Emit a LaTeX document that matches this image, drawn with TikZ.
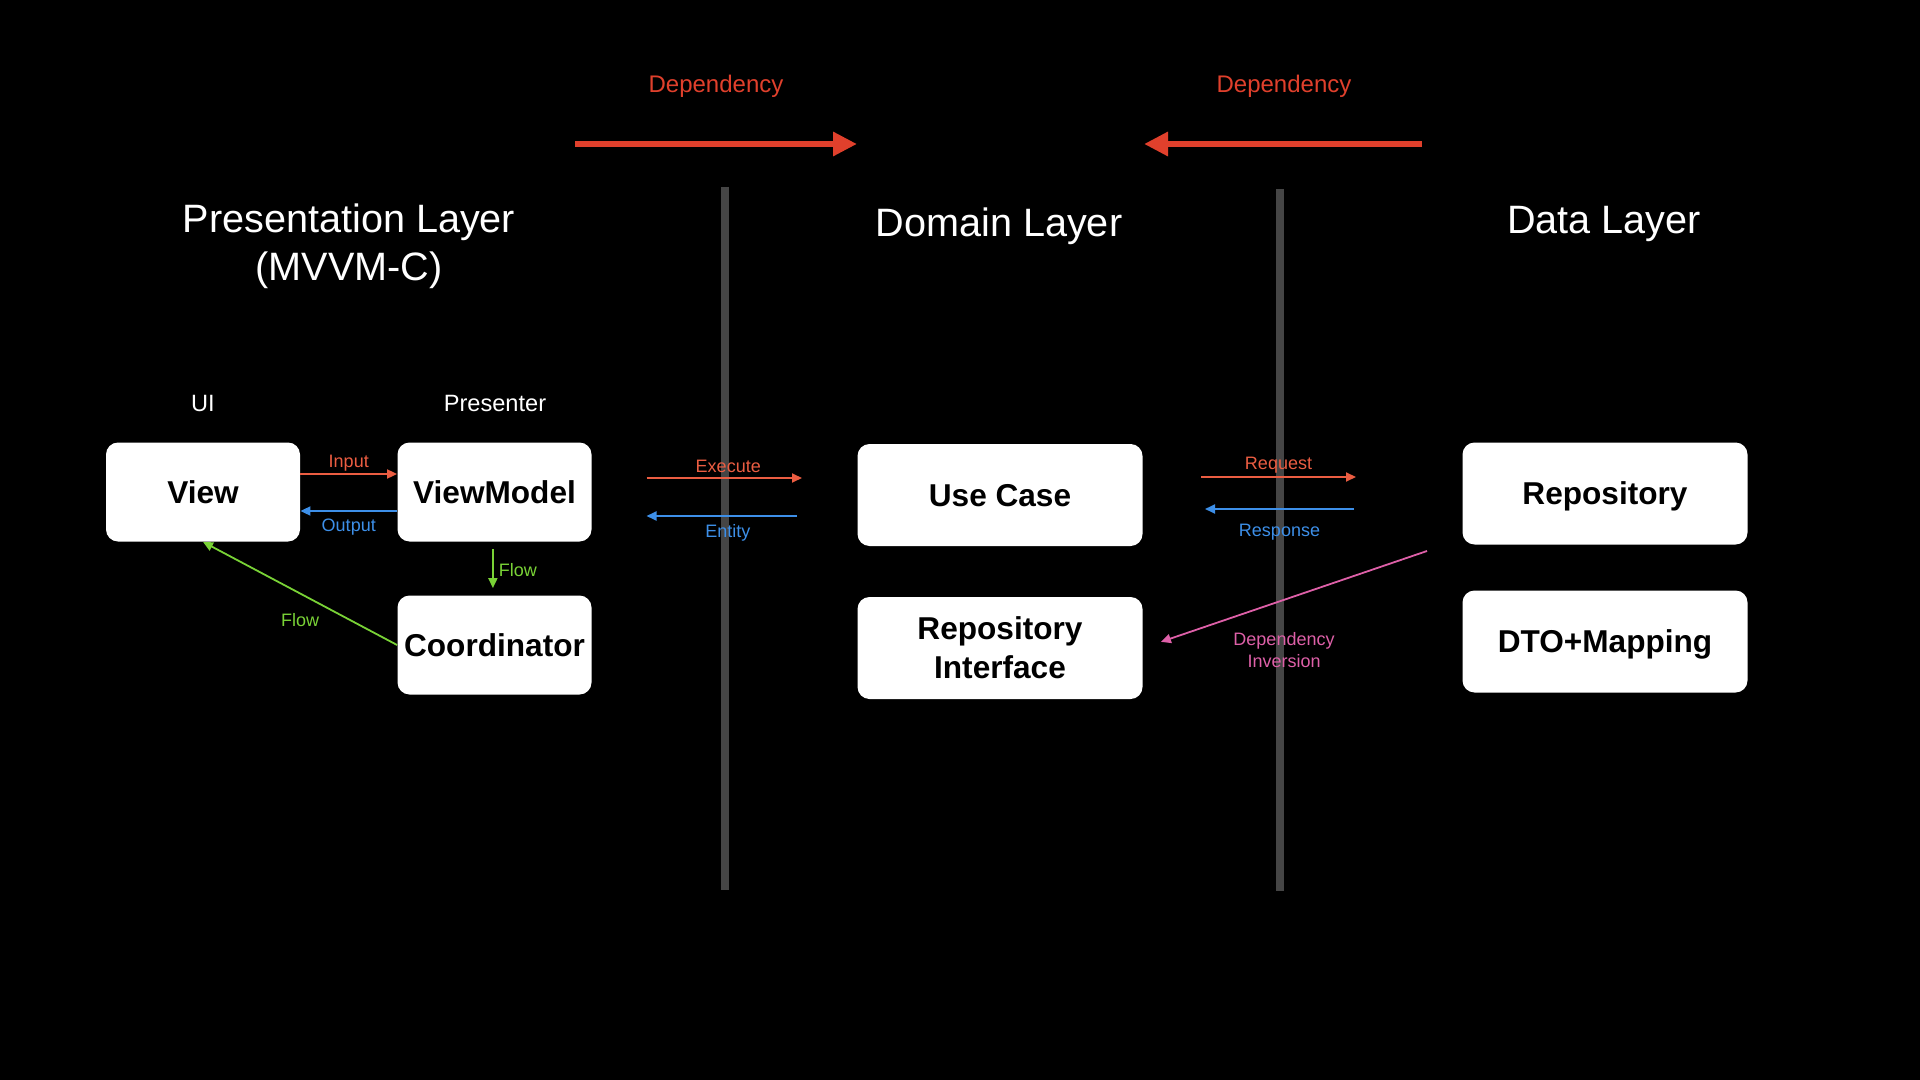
\documentclass[tikz,border=0pt]{standalone}
\usepackage{fontspec}
\setmainfont{Liberation Sans}
\usepackage{tikz}
\usetikzlibrary{arrows.meta}

\definecolor{deporange}{RGB}{224,64,44}
\definecolor{callred}{RGB}{235,93,66}
\definecolor{backblue}{RGB}{61,143,232}
\definecolor{flowgreen}{RGB}{121,210,54}
\definecolor{invpink}{RGB}{222,96,168}
\definecolor{sepgray}{RGB}{69,69,69}

\tikzset{
  block/.style={fill=white, rounded corners=6pt, inner sep=0pt, align=center, text depth=0pt,
    font={\fontsize{15.8pt}{19.5pt}\bfseries\selectfont}},
  smallblock/.style={block, minimum width=97pt, minimum height=49.5pt},
  wideblock/.style={block, minimum width=142.5pt, minimum height=51pt},
  layertitle/.style={text=white, align=center, font={\fontsize{19.8pt}{24pt}\selectfont}},
  roletitle/.style={text=white, font={\fontsize{11.8pt}{14pt}\selectfont}},
  tag/.style={font={\fontsize{9pt}{11pt}\selectfont}, align=center},
  link/.style={line width=0.9pt, -{Triangle[length=5pt,width=4.5pt]}},
  deparrow/.style={deporange, line width=3pt, -{Triangle[length=12pt,width=11.5pt]}},
  separator/.style={sepgray, line width=4pt}}

\begin{document}
\begin{tikzpicture}[x=0.5pt, y=-0.5pt]
\fill [black] (0,0) rectangle (1920,1080);
\useasboundingbox (0,0) rectangle (1920,1080);

% layer borders
\draw [separator] (725,187) -- (725,890);
\draw [separator] (1280,189) -- (1280,891);

% titles
\node [layertitle] (presTitle) at (349,246) {Presentation Layer\\(MVVM-C)};
\node [layertitle] (domainTitle) at (999,226) {Domain Layer};
\node [layertitle] (dataTitle) at (1604,224) {Data Layer};
\node [roletitle] (uiTitle) at (203,403) {UI};
\node [roletitle] (presenterTitle) at (495,403) {Presenter};

% boxes
\node [smallblock] (view) at (203,492) {View};
\node [smallblock] (viewModel) at (494.5,492) {ViewModel};
\node [smallblock] (coordinator) at (494.5,645) {Coordinator};
\node [wideblock] (useCase) at (1000,495) {Use Case};
\node [wideblock] (repoIface) at (1000,648) {Repository\\Interface};
\node [wideblock] (repository) at (1605,493.5) {Repository};
\node [wideblock] (dtoMapping) at (1605,641.5) {DTO+Mapping};

% dependency direction
\coordinate (depLeftA) at (575,144);
\coordinate (depLeftB) at (857,144);
\coordinate (depRightA) at (1422,144);
\coordinate (depRightB) at (1144,144);
\draw [deparrow] (depLeftA) -- (depLeftB);
\draw [deparrow] (depRightA) -- (depRightB);
\node [text=deporange, font={\fontsize{12pt}{14pt}\selectfont}] (depLeftLabel) at (716,86) {Dependency};
\node [text=deporange, font={\fontsize{12pt}{14pt}\selectfont}] (depRightLabel) at (1284,86) {Dependency};

% presentation layer
\draw [link, callred] ([yshift=9pt]view.east) -- ([yshift=9pt]viewModel.west)
  node [tag, midway, above, inner sep=0.8pt] {Input};
\draw [link, backblue] ([yshift=-9.5pt]viewModel.west) -- ([yshift=-9.5pt]view.east)
  node [tag, midway, below, inner sep=3.5pt] {Output};
\draw [link, flowgreen, shorten <=3.5pt, shorten >=3.5pt] ([xshift=-0.8pt]viewModel.south) -- ([xshift=-0.8pt]coordinator.north)
  node [tag, midway, right, inner sep=2.5pt, yshift=-1pt] {Flow};
\draw [link, flowgreen] (coordinator.west) -- (view.south)
  node [tag, midway, below=6pt] {Flow};

% presentation <-> domain
\coordinate (execA) at (646.5,478);
\coordinate (execB) at (802,478);
\coordinate (entA) at (797,516);
\coordinate (entB) at (646.5,516);
\draw [link, callred] (execA) -- (execB) node [tag, midway, above, inner sep=2.2pt, xshift=2pt] {Execute};
\draw [link, backblue] (entA) -- (entB) node [tag, midway, below, inner sep=4pt, xshift=3pt] {Entity};

% domain <-> data
\coordinate (reqA) at (1201,477);
\coordinate (reqB) at (1356,477);
\coordinate (respA) at (1354,509);
\coordinate (respB) at (1205,509);
\draw [link, callred] (reqA) -- (reqB) node [tag, midway, above, inner sep=1.6pt] {Request};
\draw [link, backblue] (respA) -- (respB) node [tag, midway, below, inner sep=7pt] {Response};

\coordinate (invStart) at (1427,551);
\draw [link, invpink, shorten >=9.5pt] (invStart) -- (repoIface.east);
\node [tag, text=invpink] (invLabel) at (1284,650) {Dependency\\Inversion};
\end{tikzpicture}
\end{document}
